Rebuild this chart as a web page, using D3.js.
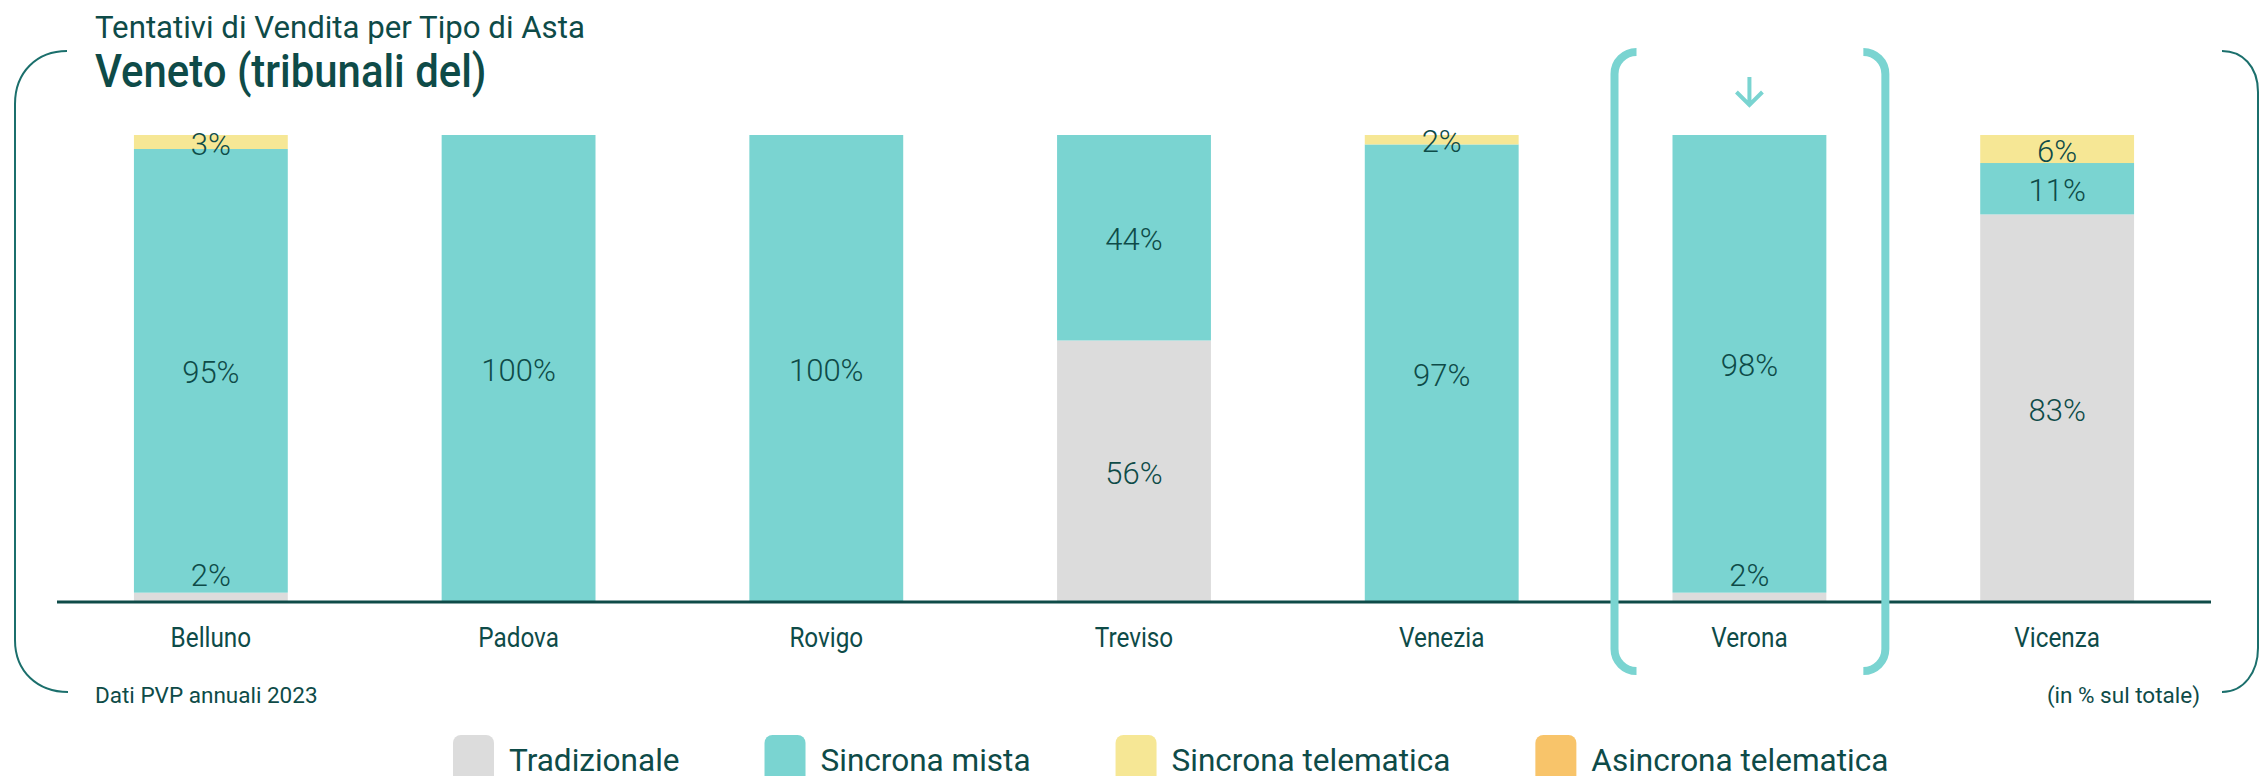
<!DOCTYPE html>
<html>
<head>
<meta charset="utf-8">
<script src="https://cdn.jsdelivr.net/npm/d3@7"></script>
<style>
  html, body { margin: 0; padding: 0; background: #ffffff; }
  svg { display: block; }
</style>
</head>
<body>
<svg id="chart" width="2261" height="776"></svg>
<script>
// Tribunali (categorie)
const courts = ["Belluno", "Padova", "Rovigo", "Treviso", "Venezia", "Verona", "Vicenza"];

// Tipi di asta (serie), dal basso verso l'alto
const auctionTypes = ["Tradizionale", "Sincrona mista", "Sincrona telematica", "Asincrona telematica"];

// Quote percentuali per tribunale
const tradizionale        = [2, 0, 0, 56, 0, 2, 83];
const sincronaMista       = [95, 100, 100, 44, 97, 98, 11];
const sincronaTelematica  = [3, 0, 0, 0, 2, 0, 6];
const asincronaTelematica = [0, 0, 0, 0, 0, 0, 0];

const typeColors = ["#dcdcdc", "#7ad4d1", "#f6e795", "#f8c46a"];
const highlighted = "Verona";

const ink = "#0e4b48";
const frameColor = "#1b6f6c";

const rows = courts.map((c, i) => ({
  court: c,
  "Tradizionale": tradizionale[i],
  "Sincrona mista": sincronaMista[i],
  "Sincrona telematica": sincronaTelematica[i],
  "Asincrona telematica": asincronaTelematica[i]
}));

const svg = d3.select("#chart");

const x = d3.scaleBand()
  .domain(courts)
  .range([57, 2211])
  .paddingInner(0.5)
  .paddingOuter(0.25);

const y = d3.scaleLinear().domain([0, 1]).range([602, 135]);

const color = d3.scaleOrdinal().domain(auctionTypes).range(typeColors);

const stacked = d3.stack()
  .keys(auctionTypes)
  .offset(d3.stackOffsetExpand)(rows);

// narrow the default sans glyphs a little to read like a semi-condensed face
function condense(sel, k) {
  sel.each(function () {
    const len = this.getComputedTextLength();
    d3.select(this).attr("textLength", len * k).attr("lengthAdjust", "spacingAndGlyphs");
  });
}

// Titles
svg.append("text")
  .attr("x", 95).attr("y", 38)
  .attr("font-family", "Roboto").attr("font-weight", 400).attr("font-size", 32)
  .attr("fill", ink)
  .text("Tentativi di Vendita per Tipo di Asta")
  .call(condense, 0.975);

svg.append("text")
  .attr("x", 95).attr("y", 87)
  .attr("font-family", "Roboto").attr("font-weight", 500).attr("font-size", 46)
  .attr("fill", ink)
  .text("Veneto (tribunali del)")
  .call(condense, 0.91);

// Outer frame brackets
svg.append("path")
  .attr("d", "M67,51 C37,51 15,72 15,104 L15,640 C15,672 38,692 68,692")
  .attr("fill", "none").attr("stroke", frameColor).attr("stroke-width", 2);

svg.append("path")
  .attr("d", "M2222,51 C2242,51 2258,66 2258,92 L2258,648 C2258,672 2244,692 2222,692")
  .attr("fill", "none").attr("stroke", frameColor).attr("stroke-width", 2);

// Stacked bars
const layers = svg.append("g").selectAll("g")
  .data(stacked)
  .join("g")
  .attr("fill", d => color(d.key));

layers.selectAll("rect")
  .data(d => d)
  .join("rect")
  .attr("x", d => x(d.data.court))
  .attr("width", x.bandwidth())
  .attr("y", d => y(d[1]))
  .attr("height", d => y(d[0]) - y(d[1]));

// Value labels
const labelData = [];
stacked.forEach((layer, li) => {
  layer.forEach(d => {
    const v = d.data[layer.key];
    if (v > 0) labelData.push({ court: d.data.court, value: v, y0: y(d[0]), y1: y(d[1]), bottom: li === 0 });
  });
});

svg.append("g").selectAll("text")
  .data(labelData)
  .join("text")
  .attr("x", d => x(d.court) + x.bandwidth() / 2)
  .attr("y", d => {
    const h = d.y0 - d.y1;
    if (d.bottom && h < 28) return d.y1 - 17;
    return (d.y0 + d.y1) / 2 + 2;
  })
  .attr("text-anchor", "middle")
  .attr("dominant-baseline", "central")
  .attr("font-family", "Roboto").attr("font-weight", 300).attr("font-size", 31)
  .attr("fill", ink)
  .text(d => d.value + "%");

// Baseline axis
const axis = svg.append("g")
  .attr("transform", `translate(0,${y(0)})`)
  .call(d3.axisBottom(x).tickSize(0).tickPadding(26));
axis.select(".domain").attr("stroke", ink).attr("stroke-width", 3).attr("d", `M${x.range()[0]},0H${x.range()[1]}`);
axis.selectAll(".tick text")
  .attr("font-family", "Roboto").attr("font-weight", 400).attr("font-size", 27)
  .attr("fill", ink)
  .attr("dy", "0.71em")
  .call(condense, 0.9);

// Highlight bracket around the selected court
const hx0 = x(highlighted);
const hx1 = hx0 + x.bandwidth();
const hl = hx0 - 58, hr = hx1 + 59, ht = 52, hb = 671, r = 22, arm = 22;
svg.append("path")
  .attr("d", `M${hl + arm},${ht} A${r},${r} 0 0 0 ${hl},${ht + r} L${hl},${hb - r} A${r},${r} 0 0 0 ${hl + arm},${hb}`)
  .attr("fill", "none").attr("stroke", "#7ad4d1").attr("stroke-width", 8);
svg.append("path")
  .attr("d", `M${hr - arm},${ht} A${r},${r} 0 0 1 ${hr},${ht + r} L${hr},${hb - r} A${r},${r} 0 0 1 ${hr - arm},${hb}`)
  .attr("fill", "none").attr("stroke", "#7ad4d1").attr("stroke-width", 8);

// Down arrow over the selected court
const ax = hx0 + x.bandwidth() / 2;
svg.append("path")
  .attr("d", `M${ax},77 L${ax},105 M${ax - 13},92 L${ax},105 L${ax + 13},92`)
  .attr("fill", "none").attr("stroke", "#7ad4d1").attr("stroke-width", 4);

// Footnotes
svg.append("text")
  .attr("x", 95).attr("y", 703)
  .attr("font-family", "Roboto").attr("font-size", 22.5).attr("fill", ink)
  .text("Dati PVP annuali 2023");

svg.append("text")
  .attr("x", 2200).attr("y", 703)
  .attr("text-anchor", "end")
  .attr("font-family", "Roboto").attr("font-size", 22.5).attr("fill", ink)
  .text("(in % sul totale)");

// Legend
const legend = svg.append("g");
const items = legend.selectAll("g")
  .data(auctionTypes)
  .join("g");
items.append("rect")
  .attr("y", 735).attr("width", 41).attr("height", 50).attr("rx", 8)
  .attr("fill", d => color(d));
items.append("text")
  .attr("x", 56).attr("y", 771)
  .attr("font-family", "Roboto").attr("font-size", 32).attr("fill", ink)
  .text(d => d)
  .call(condense, 0.985);

// lay the legend entries out left to right with even gaps
let cursor = 453;
items.each(function () {
  const g = d3.select(this);
  const t = g.select("text").node();
  g.attr("transform", `translate(${cursor},0)`);
  cursor += 56 + (+t.getAttribute("textLength")) + 85;
});
</script>
</body>
</html>
